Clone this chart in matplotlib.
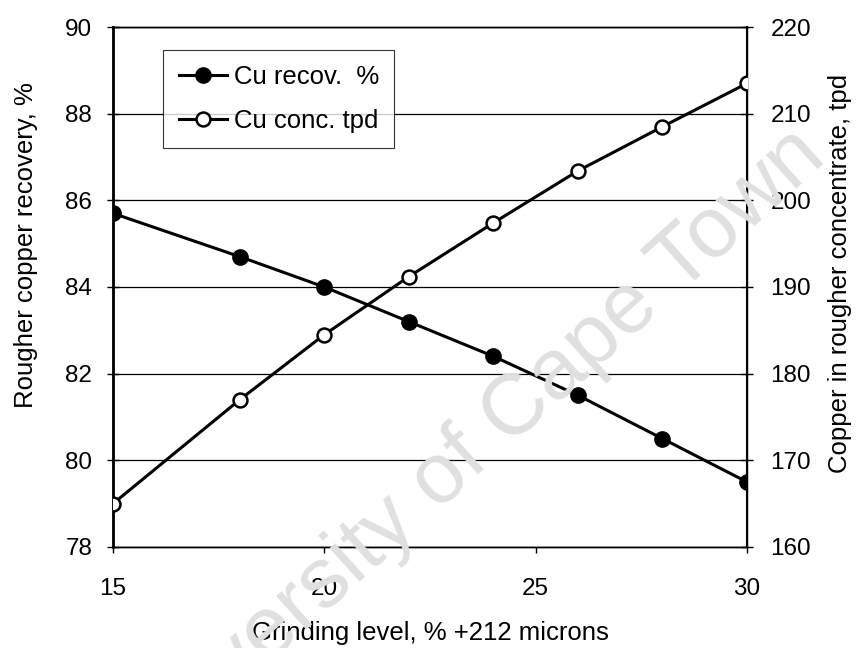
import matplotlib
matplotlib.use('Agg')
import matplotlib.pyplot as plt

plt.rcParams['font.family'] = ['Liberation Sans', 'DejaVu Sans']

# grinding level, % +212 microns
grind = [15, 18, 20, 22, 24, 26, 28, 30]
# rougher copper recovery, %
cu_recov = [85.7, 84.7, 84.0, 83.2, 82.4, 81.5, 80.5, 79.5]
# copper in rougher concentrate, tpd
cu_conc = [165.0, 177.0, 184.5, 191.2, 197.4, 203.4, 208.5, 213.5]

xticks = [15, 20, 25, 30]
yticks_left = [78, 80, 82, 84, 86, 88, 90]
yticks_right = [160, 170, 180, 190, 200, 210, 220]

fig = plt.figure(figsize=(8.6, 6.48), dpi=100)
ax = fig.add_axes([0.1314, 0.1559, 0.7372, 0.8024])
ax.patch.set_alpha(0)

# watermark behind everything
fig.text(0.545, 0.30, 'University of Cape Town', fontsize=62, color='#e0e0e0',
         rotation=42, ha='center', va='center', zorder=0)

ax2 = ax.twinx()
ax2.patch.set_alpha(0)

for y in yticks_left:
    ax.axhline(y, color='black', lw=0.9, zorder=1)

l1, = ax.plot(grind, cu_recov, color='black', lw=2.2, marker='o', ms=11,
              mfc='black', mec='black', label='Cu recov.  %', zorder=3)
l2, = ax2.plot(grind, cu_conc, color='black', lw=2.2, marker='o', ms=10,
               mfc='white', mec='black', mew=1.8, label='Cu conc. tpd', zorder=3)

ax.set_xlim(15, 30)
ax.set_ylim(78, 90)
ax2.set_ylim(160, 220)
ax.set_xticks(xticks)
ax.set_yticks(yticks_left)
ax2.set_yticks(yticks_right)

ax.tick_params(axis='x', direction='out', length=4, width=1, pad=18, labelsize=17.5)
ax.tick_params(axis='y', direction='inout', length=8, width=1, pad=11, labelsize=17.5)
ax2.tick_params(axis='y', direction='inout', length=8, width=1, pad=13, labelsize=17.5)

for a in (ax, ax2):
    for s in a.spines.values():
        s.set_linewidth(1.0)
ax.spines['left'].set_linewidth(2.0)
ax2.spines['right'].set_linewidth(1.5)

ax.set_xlabel('Grinding level, % +212 microns', fontsize=18.5)
ax.xaxis.set_label_coords(0.5, -0.142)
ax.set_ylabel('Rougher copper recovery, %', fontsize=18.5)
ax.yaxis.set_label_coords(-0.119, 0.58)
ax2.set_ylabel('Copper in rougher concentrate, tpd', fontsize=18.5)
ax2.yaxis.set_label_coords(1.128, 0.527)

leg = ax2.legend([l1, l2], [l1.get_label(), l2.get_label()],
                 loc='upper left', bbox_to_anchor=(0.079, 0.956),
                 fontsize=18.5, frameon=True, fancybox=False, handlelength=1.9,
                 handletextpad=0.25, labelspacing=0.75, borderpad=0.6,
                 borderaxespad=0)
leg.get_frame().set_edgecolor('black')
leg.get_frame().set_linewidth(0.8)

fig.savefig('out.png', dpi=100)
